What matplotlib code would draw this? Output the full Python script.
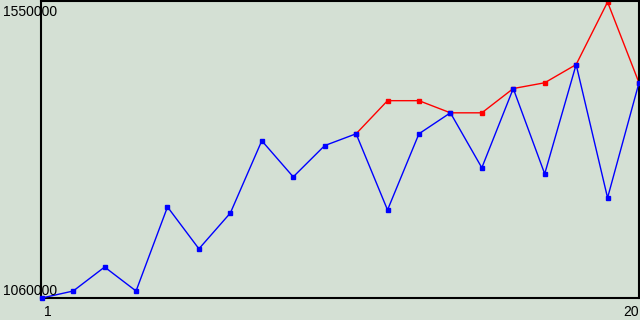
import matplotlib
matplotlib.use("Agg")
import matplotlib.pyplot as plt

# data
x_blue = list(range(1, 21))
y_blue = [1060000, 1071500, 1111000, 1071500, 1210000, 1141000, 1200000, 1319000, 1259500, 1311000,
          1330500, 1205000, 1330500, 1365000, 1274500, 1405000, 1264500, 1444500, 1225000, 1414500]
x_red = list(range(11, 21))
y_red = [1330500, 1385000, 1385000, 1365000, 1365000, 1405000, 1414500, 1444500, 1547500, 1414500]

y_min = 1060000
y_max = 1550000
x_labels = ["1", "20"]

bg = "#d4e0d4"
W, H = 640, 320

plt.rcParams["font.family"] = ["Liberation Sans", "DejaVu Sans"]

fig = plt.figure(figsize=(W / 100, H / 100), dpi=100, facecolor=bg)
ax = fig.add_axes([40.5 / W, 22 / H, 598.5 / W, 297.5 / H])
ax.set_facecolor(bg)

ax.plot(x_red, y_red, color="#ff0000", lw=1, marker="s", ms=2.6, mec="#ff0000", mfc="#ff0000", clip_on=False, zorder=2)
ax.plot(x_blue, y_blue, color="#0000ff", lw=1, marker="s", ms=2.6, mec="#0000ff", mfc="#0000ff", clip_on=False, zorder=3)

ax.set_xlim(0.96, 20)
ax.set_ylim(y_min, y_max)
ax.set_xticks([])
ax.set_yticks([])
for s in ax.spines.values():
    s.set_color("black")
    s.set_linewidth(1.5)

# axis labels drawn as plain text in pixel positions
fig.text(3 / W, 1 - 4.5 / H, str(y_max), ha="left", va="top", fontsize=10, color="black")
fig.text(3 / W, 1 - 298 / H, str(y_min), ha="left", va="bottom", fontsize=10, color="black")
fig.text(47.5 / W, 1 - 304.5 / H, x_labels[0], ha="center", va="top", fontsize=10, color="black")
fig.text(639 / W, 1 - 304.5 / H, x_labels[1], ha="right", va="top", fontsize=10, color="black")

fig.savefig("out.png", dpi=100, facecolor=bg)
